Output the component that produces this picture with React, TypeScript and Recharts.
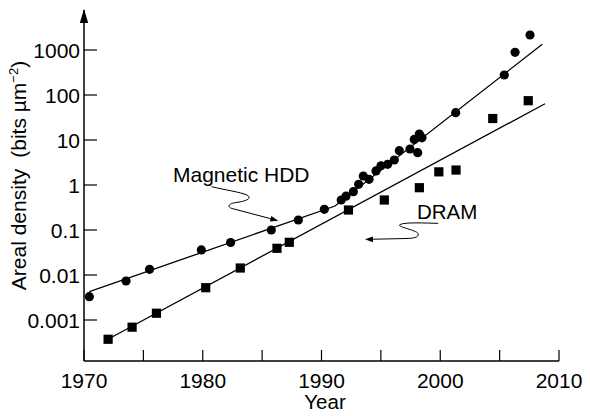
import React from 'react';
import { ComposedChart, XAxis, YAxis, Scatter, Line, ReferenceDot } from 'recharts';

// Magnetic HDD areal density (bits per square micrometre)
const hddYears = [1970.45, 1973.54, 1975.52, 1979.88, 1982.35, 1985.77, 1988.05, 1990.24, 1991.66, 1992.06, 1992.68, 1993.13, 1993.52, 1994.0, 1994.59, 1995.01, 1995.57, 1996.13, 1996.55, 1997.45, 1997.81, 1998.24, 1998.46, 1998.1, 2001.3, 2005.39, 2006.3, 2007.56];
const hddValues = [0.0033, 0.00736, 0.0134, 0.036, 0.0527, 0.1, 0.167, 0.288, 0.464, 0.564, 0.71, 1.04, 1.585, 1.34, 2.05, 2.68, 2.88, 3.59, 5.78, 6.31, 10.3, 13.6, 11.2, 5.22, 40.5, 278, 889, 2154];

// DRAM areal density
const dramYears = [1972.03, 1974.05, 1976.1, 1980.25, 1983.16, 1986.25, 1987.29, 1992.27, 1995.29, 1998.24, 1999.88, 2001.33, 2004.42, 2007.41];
const dramValues = [3.73e-4, 6.92e-4, 1.415e-3, 5.22e-3, 0.0143, 0.0392, 0.0533, 0.278, 0.464, 0.871, 1.96, 2.15, 30, 74.7];

// Trend lines
const hddFitYears = [1970.45, 1991.14, 2008.59];
const hddFitValues = [0.00426, 0.341, 1340];
const dramFitYears = [1972.05, 2008.82];
const dramFitValues = [3.78e-4, 64];

// Axes
const xTicks = [1970, 1975, 1980, 1985, 1990, 1995, 2000, 2005, 2010];
const xTickLabels = ['1970', '', '1980', '', '1990', '', '2000', '', '2010'];
const yTicks = [0.001, 0.01, 0.1, 1, 10, 100, 1000];
const yTickLabels = ['0.001', '0.01', '0.1', '1', '10', '100', '1000'];
const xDomain = [1970, 2010];
const yDomain = [1.227e-4, 7743];

// Annotation anchors (arrow tips), in data units
const hddNoteYear = 1986.36;
const hddNoteValue = 0.161;
const dramNoteYear = 1993.66;
const dramNoteValue = 0.062;

const hddData = hddYears.map((year, i) => ({ year, v: hddValues[i] }));
const dramData = dramYears.map((year, i) => ({ year, v: dramValues[i] }));
const hddFit = hddFitYears.map((year, i) => ({ year, v: hddFitValues[i] }));
const dramFit = dramFitYears.map((year, i) => ({ year, v: dramFitValues[i] }));

const FONT = '"Liberation Sans", Arial, Helvetica, sans-serif';
const INK = '#000';

const XTick = (props: any) => {
  const { x, y, payload } = props;
  const label = xTickLabels[xTicks.indexOf(payload.value)] ?? '';
  return (
    <g>
      <line x1={x} x2={x} y1={y} y2={y - 11} stroke={INK} strokeWidth={1.2} />
      {label && (
        <text x={x} y={y + 26.5} textAnchor="middle" fontSize={21} fill={INK} fontFamily={FONT}>
          {label}
        </text>
      )}
    </g>
  );
};

const YTick = (props: any) => {
  const { x, y, payload } = props;
  const idx = yTicks.indexOf(payload.value);
  const label = idx >= 0 ? yTickLabels[idx] : String(payload.value);
  return (
    <g>
      <line x1={x} x2={x + 13} y1={y} y2={y} stroke={INK} strokeWidth={1.2} />
      <text x={x - 4} y={y} dy="0.36em" textAnchor="end" fontSize={21} fill={INK} fontFamily={FONT}>
        {label}
      </text>
    </g>
  );
};

const YLabel = (props: any) => {
  const vb = props.viewBox || { x: 0, y: 10, width: 84, height: 351 };
  const cx = vb.x + 26;
  const cy = vb.y + vb.height / 2 - 10;
  return (
    <text
      transform={`translate(${cx},${cy}) rotate(-90)`}
      textAnchor="middle"
      fontSize={21}
      fill={INK}
      fontFamily={FONT}
    >
      Areal density
      <tspan dx={11}>(bits µm</tspan>
      <tspan dy={-8} fontSize={13}>−2</tspan>
      <tspan dy={8}>)</tspan>
    </text>
  );
};

const XLabel = (props: any) => {
  const vb = props.viewBox || { x: 84, y: 361, width: 475, height: 55 };
  return (
    <text x={vb.x + vb.width / 2 + 3.5} y={vb.y + 48} textAnchor="middle" fontSize={20.5} fill={INK} fontFamily={FONT}>
      Year
    </text>
  );
};

const Circle = (props: any) => <circle cx={props.cx} cy={props.cy} r={4.6} fill={INK} />;
const Square = (props: any) => (
  <rect x={props.cx - 4.6} y={props.cy - 4.6} width={9.2} height={9.2} fill={INK} />
);

const AxisArrow = (props: any) => {
  const { cx, cy } = props;
  return <polygon points={`${cx},${cy - 1} ${cx - 4.2},${cy + 13} ${cx + 4.2},${cy + 13}`} fill={INK} />;
};

const HddNote = (props: any) => {
  const { cx, cy } = props;
  return (
    <g transform={`translate(${cx - 278.3},${cy - 220.7})`}>
      <path
        d="M211.7,186.7 C225,190 240,192 247,195 C252,198 248,201 236,202.5 C226,204 228,208 234,209 L271,218.8"
        fill="none"
        stroke={INK}
        strokeWidth={1}
      />
      <polygon points="278.3,220.7 269.9,221.6 271.4,215.9" fill={INK} />
      <text x={173} y={182} fontSize={21} fill={INK} fontFamily={FONT}>
        Magnetic HDD
      </text>
    </g>
  );
};

const DramNote = (props: any) => {
  const { cx, cy } = props;
  return (
    <g transform={`translate(${cx - 365},${cy - 239.3})`}>
      <path
        d="M438.3,223.3 C425,223 405,222 400,224.5 C396,227 418,230 418.3,234 C418.5,237.5 414,238.3 405,238.5 L372,239.2"
        fill="none"
        stroke={INK}
        strokeWidth={1}
      />
      <polygon points="365,239.3 373,236.5 373,242.1" fill={INK} />
      <text x={417} y={218.5} fontSize={20.5} fill={INK} fontFamily={FONT}>
        DRAM
      </text>
    </g>
  );
};

export default function App() {
  return (
    <div style={{ position: 'absolute', left: 0, top: 0, width: 590, height: 416, background: '#fff', fontFamily: FONT }}>
      <ComposedChart width={590} height={416} margin={{ top: 10, right: 31, bottom: 0, left: 0 }}>
        <XAxis
          dataKey="year"
          type="number"
          domain={xDomain}
          ticks={xTicks}
          interval={0}
          height={55}
          tickSize={0}
          tickMargin={0}
          tickLine={false}
          tick={<XTick />}
          axisLine={{ stroke: INK, strokeWidth: 1.5 }}
          allowDataOverflow
          label={{ content: <XLabel /> } as any}
        />
        <YAxis
          dataKey="v"
          type="number"
          scale="log"
          domain={yDomain}
          ticks={yTicks}
          interval={0}
          width={84}
          tickSize={0}
          tickMargin={0}
          tickLine={false}
          tick={<YTick />}
          axisLine={{ stroke: INK, strokeWidth: 1.5 }}
          allowDataOverflow
          label={{ content: <YLabel /> } as any}
        />
        <Line
          data={hddFit}
          dataKey="v"
          type="linear"
          stroke={INK}
          strokeWidth={1.3}
          dot={false}
          activeDot={false}
          isAnimationActive={false}
        />
        <Line
          data={dramFit}
          dataKey="v"
          type="linear"
          stroke={INK}
          strokeWidth={1.3}
          dot={false}
          activeDot={false}
          isAnimationActive={false}
        />
        <Scatter data={hddData} dataKey="v" shape={<Circle />} isAnimationActive={false} />
        <Scatter data={dramData} dataKey="v" shape={<Square />} isAnimationActive={false} />
        <ReferenceDot x={1970} y={yDomain[1]} ifOverflow="visible" shape={<AxisArrow />} />
        <ReferenceDot x={hddNoteYear} y={hddNoteValue} ifOverflow="visible" shape={<HddNote />} />
        <ReferenceDot x={dramNoteYear} y={dramNoteValue} ifOverflow="visible" shape={<DramNote />} />
      </ComposedChart>
    </div>
  );
}
